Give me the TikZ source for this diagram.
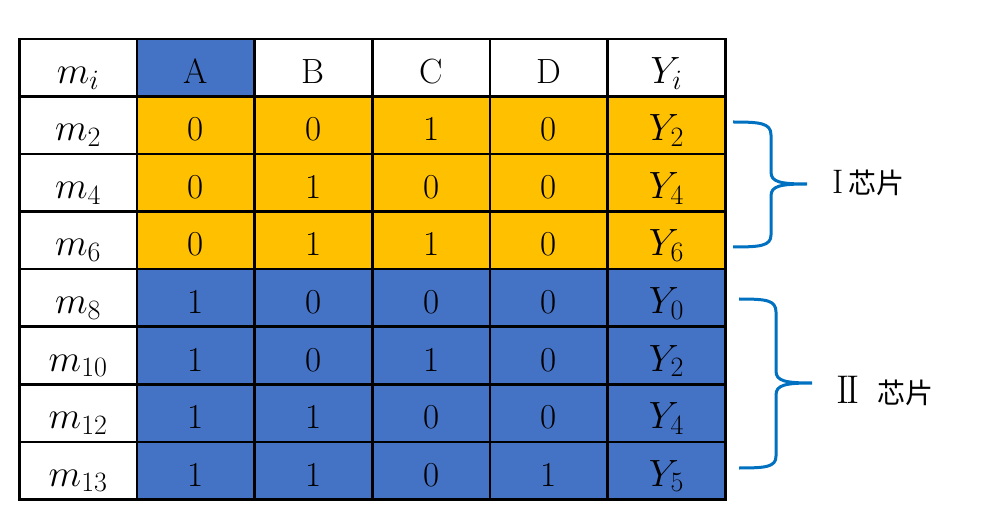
\RequirePackage{fix-cm}
\documentclass[tikz,border=0pt]{standalone}
\usepackage{fontspec}
\newfontfamily\cjk{Noto Sans CJK SC}
\DeclareMathSizes{38}{38}{28}{20}
\definecolor{cellblue}{HTML}{4472C4}
\definecolor{cellgold}{HTML}{FFC000}
\definecolor{bracecol}{HTML}{0070C0}

\begin{document}
\begin{tikzpicture}[x=1pt,y=-1pt]
  \tikzstyle{cell}=[rectangle,draw=black,line width=2.5pt,minimum width=117.67pt,minimum height=57.5pt,inner sep=0pt,anchor=north west]
  \tikzstyle{entry}=[anchor=base,inner sep=0pt,font=\fontsize{35}{40}\selectfont]
  \tikzstyle{mathentry}=[entry,font=\fontsize{38}{44}\selectfont]
  \tikzstyle{brace}=[draw=bracecol,line width=3pt]
  \tikzstyle{chip}=[anchor=base west,inner sep=0pt]

  \useasboundingbox (0,0) rectangle (1006,526);

    % header row
    \foreach \c/\txt/\col in {1/A/cellblue,2/B/white,3/C/white,4/D/white} {
      \node [cell,fill=\col] (c0-\c) at ({18+117.67*\c},38) {};
      \node [entry] (t0-\c) at ([yshift=14.5pt]c0-\c.south) {\txt};
    }
    \node [cell,fill=white] (c0-0) at (18,38) {};
    \node [mathentry] (t0-0) at ([yshift=14.5pt]c0-0.south) {$m_i$};
    \node [cell,fill=white] (c0-5) at ({18+117.67*5},38) {};
    \node [mathentry] (t0-5) at ([yshift=14.5pt]c0-5.south) {$Y_i$};

    % minterm rows
    \foreach \r/\m/\a/\b/\cc/\d/\y/\col in {1/2/0/0/1/0/2/cellgold,2/4/0/1/0/0/4/cellgold,3/6/0/1/1/0/6/cellgold,
        4/8/1/0/0/0/0/cellblue,5/10/1/0/1/0/2/cellblue,6/12/1/1/0/0/4/cellblue,7/13/1/1/0/1/5/cellblue} {
      \node [cell,fill=white] (c\r-0) at (18,{38+57.5*\r}) {};
      \node [mathentry] (t\r-0) at ([yshift=14.5pt]c\r-0.south) {$m_{\m}$};
      \foreach \c/\v in {1/\a,2/\b,3/\cc,4/\d} {
        \node [cell,fill=\col] (c\r-\c) at ({18+117.67*\c},{38+57.5*\r}) {};
        \node [entry] (t\r-\c) at ([yshift=14.5pt]c\r-\c.south) {\v};
      }
      \node [cell,fill=\col] (c\r-5) at ({18+117.67*5},{38+57.5*\r}) {};
      \node [mathentry] (t\r-5) at ([yshift=14.5pt]c\r-5.south) {$Y_{\y}$};
    }

    % braces
    \draw [brace] (733,122) .. controls (760,122) and (771,123) .. (771,135) -- (771,172)
        .. controls (771,182) and (780,184) .. (807,184) .. controls (780,184) and (771,186) .. (771,196)
        -- (771,235) .. controls (771,246) and (760,247) .. (733,247);
    \draw [brace] (739,299) .. controls (766,299) and (776,300) .. (776,312) -- (776,371)
        .. controls (776,381) and (785,383) .. (812,383) .. controls (785,383) and (776,385) .. (776,395)
        -- (776,456) .. controls (776,467) and (766,468) .. (739,468);

    \node [chip] (chip1) at (832,194) {{\fontsize{34}{40}\selectfont I}\kern5pt{\cjk\fontsize{28}{32}\selectfont 芯片}};
    \node [chip] (chip2) at (836,403) {{\fontsize{40}{46}\selectfont I\kern-2.5pt I}\kern18pt{\cjk\fontsize{28}{32}\selectfont 芯片}};
\end{tikzpicture}
\end{document}
